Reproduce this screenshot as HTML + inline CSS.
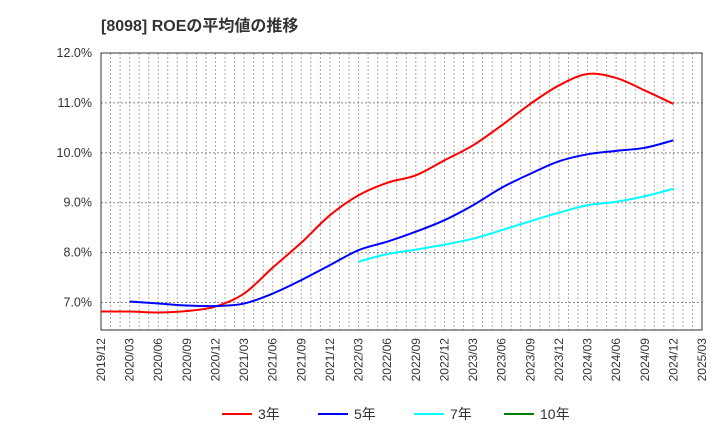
<!DOCTYPE html>
<html><head><meta charset="utf-8"><style>
body{margin:0;background:#fff;}
svg{display:block;font-family:"Liberation Sans","Noto Sans CJK JP",sans-serif;}
</style></head><body>
<svg id="c" width="720" height="440">
<text x="101" y="31" font-size="16" font-weight="bold" fill="#333">[8098]  ROEの平均値の推移</text>
<g id="grid"></g><g id="axes"></g><g id="series"></g><g id="legend"></g>
</svg>
<script>
const quarters=["2019/12","2020/03","2020/06","2020/09","2020/12","2021/03","2021/06","2021/09","2021/12","2022/03","2022/06","2022/09","2022/12","2023/03","2023/06","2023/09","2023/12","2024/03","2024/06","2024/09","2024/12","2025/03"];
const yTicks=[7.0,8.0,9.0,10.0,11.0,12.0];
const roe3=[6.82,6.82,6.80,6.83,6.92,7.18,7.70,8.20,8.75,9.15,9.40,9.55,9.85,10.15,10.55,10.98,11.35,11.58,11.50,11.25,10.98];
const roe5=[null,7.02,6.98,6.94,6.93,6.98,7.18,7.45,7.75,8.05,8.22,8.42,8.65,8.95,9.30,9.58,9.83,9.97,10.04,10.10,10.25];
const roe7=[null,null,null,null,null,null,null,null,null,7.82,7.97,8.06,8.16,8.28,8.45,8.63,8.80,8.95,9.02,9.13,9.28];
const roe10=[];
const L=101,R=702,T=53,B=330,yMin=6.45,yMax=12.0;
const NS="http://www.w3.org/2000/svg";
const x=i=>L+(R-L)*i/(quarters.length-1);
const y=v=>B-(B-T)*(v-yMin)/(yMax-yMin);
function mk(t,a,p){const e=document.createElementNS(NS,t);for(const k in a)e.setAttribute(k,a[k]);p.appendChild(e);return e;}
const grid=document.getElementById('grid'),axes=document.getElementById('axes'),ser=document.getElementById('series'),leg=document.getElementById('legend');
for(let m=1;m<63;m++){const xx=L+(R-L)*m/63;
const g=mk('line',{x1:xx,x2:xx,y1:T,y2:B,stroke:'#aaa','stroke-dasharray':'2,2','stroke-width':1},grid);

}
yTicks.forEach(v=>{const g=mk('line',{x1:L,x2:R,y1:y(v),y2:y(v),stroke:'#888','stroke-dasharray':'2,2','stroke-width':1},grid);


const t=mk('text',{x:L-9,y:y(v)+4,'text-anchor':'end','font-size':12.5,fill:'#333'},axes);t.textContent=v.toFixed(1)+'%';

});
const fr=mk('rect',{x:L,y:T,width:R-L,height:B-T,fill:'none',stroke:'#333','stroke-width':1},axes);


quarters.forEach((q,i)=>{const t=mk('text',{transform:`translate(${x(i)+4},${B+8}) rotate(-90)`,'text-anchor':'end','font-size':12,fill:'#333'},axes);t.textContent=q;

});
function path(arr,color,name){const pts=[];arr.forEach((v,i)=>{if(v!=null)pts.push([x(i),y(v)]);});if(pts.length<2)return;
let d=`M${pts[0][0]},${pts[0][1]}`;
for(let i=0;i<pts.length-1;i++){const p0=pts[i-1]||pts[i],p1=pts[i],p2=pts[i+1],p3=pts[i+2]||p2;
d+=` C${p1[0]+(p2[0]-p0[0])/6},${p1[1]+(p2[1]-p0[1])/6} ${p2[0]-(p3[0]-p1[0])/6},${p2[1]-(p3[1]-p1[1])/6} ${p2[0]},${p2[1]}`;}
const p=mk('path',{d:d,fill:'none',stroke:color,'stroke-width':2},ser);

}
path(roe3,'#ff0000','line-3yr');path(roe5,'#0000ff','line-5yr');path(roe7,'#00ffff','line-7yr');path(roe10,'#008000','line-10yr');
[['3年','#ff0000',222],['5年','#0000ff',318],['7年','#00ffff',414],['10年','#008000',504]].forEach(([n,c,lx])=>{
const g=mk('g',{},leg);


mk('line',{x1:lx,x2:lx+30,y1:414,y2:414,stroke:c,'stroke-width':2},g);
const t=mk('text',{x:lx+36,y:419,'font-size':14,fill:'#333'},g);t.textContent=n;});
</script>
</body></html>
